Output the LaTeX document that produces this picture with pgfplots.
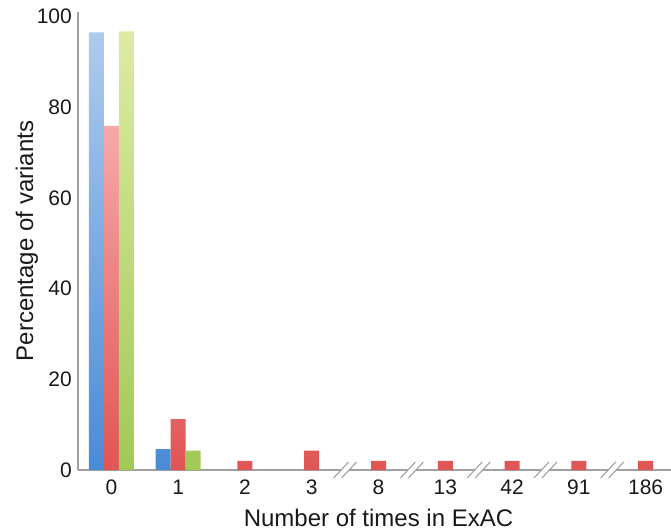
\documentclass[border=0pt]{standalone}
\usepackage{fontspec}
\setmainfont{Liberation Sans}
\usepackage{pgfplots}
\pgfplotsset{compat=1.18}
\definecolor{blueT}{HTML}{AECBEE}
\definecolor{blueB}{HTML}{4A8BD6}
\definecolor{redT}{HTML}{F7A8A8}
\definecolor{redB}{HTML}{E05555}
\definecolor{greenT}{HTML}{DDEBA5}
\definecolor{greenB}{HTML}{A2C957}
\definecolor{axgray}{HTML}{A0A0A0}
\begin{document}
\begin{tikzpicture}
\begin{axis}[
  at={(78bp,62bp)}, anchor=south west,
  scale only axis,
  width=593bp, height=458bp,
  xmin=-0.5, xmax=8.38,
  ymin=0, ymax=101,
  axis x line=bottom, axis y line=left,
  axis line style={-, draw=axgray, line width=1.3bp},
  major tick length=0pt,
  ytick={0,20,40,60,80,100},
  xtick={0,1,2,3,4,5,6,7,8},
  xticklabels={0,1,2,3,8,13,42,91,186},
  /pgf/number format/assume math mode=true,
  tick label style={font=\fontsize{21bp}{25bp}\selectfont, text=black!90, inner sep=0pt},
  xticklabel style={anchor=north, yshift=-10bp},
  yticklabel style={anchor=east, xshift=-6bp},
  every axis x label/.style={at={(axis description cs:0.5,0)}, anchor=center, yshift=-47.5bp, xshift=4bp},
  every axis y label/.style={at={(axis description cs:0,0.5)}, anchor=center, xshift=-51bp, rotate=90},
  label style={font=\fontsize{24bp}{28bp}\selectfont, text=black!90},
  xlabel={Number of times in ExAC},
  ylabel={Percentage of variants},
  ybar, bar width=0.2245,
  clip=false,
]
\addplot[draw=none, top color=blueT, bottom color=blueB, bar shift=-0.2245] coordinates {(0,96.5) (1,4.6)};
\addplot[draw=none, top color=redT, bottom color=redB, bar shift=0] coordinates {(0,75.9) (1,11.2) (2,2.0) (3,4.3) (4,2.0) (5,2.0) (6,2.0) (7,2.0) (8,2.0)};
\addplot[draw=none, top color=greenT, bottom color=greenB, bar shift=0.2245] coordinates {(0,96.7) (1,4.3)};
\coordinate (b1) at (axis cs:3.5,0);
\coordinate (b2) at (axis cs:4.5,0);
\coordinate (b3) at (axis cs:5.5,0);
\coordinate (b4) at (axis cs:6.5,0);
\coordinate (b5) at (axis cs:7.5,0);
\end{axis}
\foreach \b in {b1,b2,b3,b4,b5}{
  \fill[white] ([shift={(-4bp,-1.5bp)}]\b) rectangle ([shift={(4bp,1.5bp)}]\b);
  \draw[axgray, line width=1.1bp] ([shift={(-11.5bp,-8bp)}]\b) -- ([shift={(3.5bp,8bp)}]\b);
  \draw[axgray, line width=1.1bp] ([shift={(-3.5bp,-8bp)}]\b) -- ([shift={(11.5bp,8bp)}]\b);
}
\pgfresetboundingbox
\path[use as bounding box] (0,0) rectangle (671bp,532bp);
\end{tikzpicture}
\end{document}
